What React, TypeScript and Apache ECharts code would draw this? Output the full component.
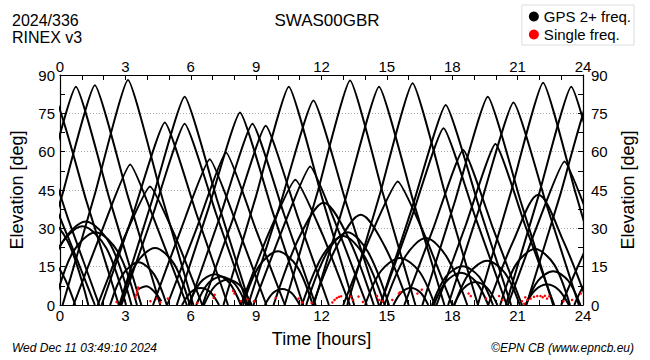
import React, { useEffect, useRef } from "react";
import * as echarts from "echarts";

// Satellite passes: each pass is a list of [time (hours), elevation (deg)]
const passesNight: number[][][] = [
  [[-3.3, 0], [-1.8, 41], [-0.3, 82], [1.2, 41], [2.7, 0]],
  [[-3.8, 0], [-2.4, 33], [-1.0, 66], [0.4, 33], [1.8, 0]],
  [[-3.6, 0], [-2.3, 28], [-1.0, 52], [0.3, 28], [1.6, 0]],
  [[-2.9, 0], [-1.95, 25], [-0.8, 35], [0.35, 25], [1.3, 0]],
  [[-2.5, 0], [-1.78, 14], [-0.9, 20], [-0.02, 14], [0.7, 0]],
  [[-2.27, 0], [-0.77, 42.7], [0.73, 85.4], [2.23, 42.7], [3.73, 0]],
  [[-1.4, 0], [0.1, 43], [1.6, 86], [3.1, 43], [4.6, 0]],
  [[0.12, 0], [1.62, 44], [3.12, 88], [4.62, 44], [6.12, 0]],
  [[-0.92, 0], [0.03, 23.5], [1.18, 32.7], [2.33, 23.5], [3.28, 0]],
  [[-0.97, 0], [-0.07, 22.2], [1.03, 30.8], [2.13, 22.2], [3.03, 0]],
  [[-0.27, 0], [0.58, 20.5], [1.63, 28.5], [2.68, 20.5], [3.53, 0]],
  [[0.62, 0], [1.92, 29], [3.22, 55], [4.52, 29], [5.82, 0]],
  [[1.73, 0], [2.93, 26], [4.13, 46.4], [5.33, 26], [6.53, 0]],
  [[2.3, 0], [2.88, 12], [3.6, 16.7], [4.32, 12], [4.9, 0]],
  [[2.76, 0], [3.48, 16], [4.36, 22.3], [5.24, 16], [5.96, 0]],
  [[3.6, 6.2], [3.95, 7.3], [4.3, 5.5], [4.65, 1.5]],
  [[1.91, 0], [3.36, 35.7], [4.81, 71.4], [6.26, 35.7], [7.71, 0]],
  [[2.82, 0], [4.27, 35.5], [5.72, 70.9], [7.17, 35.5], [8.62, 0]],
  [[2.72, 0], [4.22, 40.8], [5.72, 81.5], [7.22, 40.8], [8.72, 0]],
];

const passesMorning: number[][][] = [
  [[4.27, 0], [5.57, 30], [6.87, 57], [8.17, 30], [9.47, 0]],
  [[4.92, 0], [6.27, 30], [7.62, 59.7], [8.97, 30], [10.32, 0]],
  [[5.36, 0], [6.81, 37.7], [8.26, 75.3], [9.71, 37.7], [11.16, 0]],
  [[5.93, 0], [7.38, 35.5], [8.83, 70.9], [10.28, 35.5], [11.73, 0]],
  [[6.54, 0], [7.99, 35], [9.44, 70.1], [10.89, 35], [12.34, 0]],
  [[5.6, 0], [6.0, 5], [6.47, 6.7], [6.9, 5], [7.3, 0]],
  [[5.9, 0], [6.44, 8.8], [7.1, 12], [7.76, 8.8], [8.3, 0]],
  [[6.25, 0], [6.77, 8.2], [7.4, 11.2], [8.03, 8.2], [8.55, 0]],
  [[6.6, 0], [7.1, 7.3], [7.7, 10], [8.3, 7.3], [8.8, 0]],
  [[8.4, 0], [9.12, 15], [10.0, 21], [10.88, 15], [11.6, 0]],
  [[9.4, 0], [9.76, 4.6], [10.2, 6.3], [10.64, 4.6], [11.0, 0]],
  [[7.5, 0], [9.0, 42.7], [10.5, 85.4], [12.0, 42.7], [13.5, 0]],
  [[8.63, 0], [10.13, 40], [11.63, 80], [13.13, 40], [14.63, 0]],
  [[8.3, 0], [9.55, 27.5], [10.8, 49], [12.05, 27.5], [13.3, 0]],
  [[8.88, 0], [10.18, 29], [11.48, 54.2], [12.78, 29], [14.08, 0]],
];

const passesAfternoon: number[][][] = [
  [[9.8, 0], [10.95, 26], [12.1, 40], [13.25, 26], [14.4, 0]],
  [[11.6, 0], [12.7, 23], [13.8, 35.3], [14.9, 23], [16.0, 0]],
  [[11.3, 0], [12.25, 20.5], [13.2, 28.5], [14.15, 20.5], [15.1, 0]],
  [[11.1, 0], [12.05, 19.4], [13.0, 27], [13.95, 19.4], [14.9, 0]],
  [[10.31, 0], [11.81, 43.9], [13.31, 87.8], [14.81, 43.9], [16.31, 0]],
  [[11.64, 0], [13.14, 42.7], [14.64, 85.4], [16.14, 42.7], [17.64, 0]],
  [[13.18, 0], [14.68, 43.4], [16.18, 86.8], [17.68, 43.4], [19.18, 0]],
  [[14.7, 0], [16.2, 39.2], [17.7, 78.3], [19.2, 39.2], [20.7, 0]],
  [[14.7, 0], [16.15, 34.6], [17.6, 69.2], [19.05, 34.6], [20.5, 0]],
  [[13.0, 0], [14.25, 27], [15.5, 48.3], [16.75, 27], [18.0, 0]],
  [[14.89, 0], [15.84, 18.9], [16.79, 26.2], [17.74, 18.9], [18.69, 0]],
  [[14.0, 0], [14.72, 13.2], [15.6, 18.4], [16.48, 13.2], [17.2, 0]],
  [[15.3, 0], [15.66, 4.9], [16.1, 6.7], [16.54, 4.9], [16.9, 0]],
  [[15.8, 0], [17.15, 30.5], [18.5, 60.7], [19.85, 30.5], [21.2, 0]],
];

const passesEvening: number[][][] = [
  [[16.63, 0], [18.13, 40.8], [19.63, 81.5], [21.13, 40.8], [22.63, 0]],
  [[17.28, 0], [18.63, 31.5], [19.98, 63], [21.33, 31.5], [22.68, 0]],
  [[17.81, 0], [19.31, 39.6], [20.81, 79.2], [22.31, 39.6], [23.81, 0]],
  [[17.07, 0], [17.7, 11], [18.47, 15.2], [19.24, 11], [19.87, 0]],
  [[17.15, 0], [17.71, 9.1], [18.4, 12.6], [19.09, 9.1], [19.65, 0]],
  [[18.1, 0], [18.78, 12.5], [19.6, 17.3], [20.42, 12.5], [21.1, 0]],
  [[18.07, 0], [18.52, 6.5], [19.07, 9], [19.62, 6.5], [20.07, 0]],
  [[19.17, 0], [20.67, 43.5], [22.17, 87], [23.67, 43.5], [25.17, 0]],
  [[20.46, 0], [21.96, 42.7], [23.46, 85.4], [24.96, 42.7], [26.46, 0]],
  [[20.55, 0], [21.85, 30], [23.15, 56.2], [24.45, 30], [25.75, 0]],
  [[19.65, 0], [20.8, 25], [21.95, 43.1], [23.1, 25], [24.25, 0]],
  [[20.2, 0], [20.92, 15.8], [21.8, 21.9], [22.68, 15.8], [23.4, 0]],
  [[21.38, 0], [21.94, 9.5], [22.63, 13.2], [23.32, 9.5], [23.88, 0]],
  [[21.35, 0], [21.8, 5.8], [22.35, 8], [22.9, 5.8], [23.35, 0]],
  [[21.4, 0], [22.95, 43], [24.5, 86], [26.05, 43], [27.6, 0]],
  [[23.0, 0], [24.3, 25], [25.6, 45], [26.9, 25], [28.2, 0]],
  [[23.6, 0], [24.23, 10], [25.0, 14], [25.77, 10], [26.4, 0]],
];

// Single-frequency observations (red)
const singleFreqPoints: number[][] = [
  [2.6, 1.2], [3.47, 3.0], [3.5, 4.0], [3.53, 5.0], [3.56, 6.0], [3.59, 6.8],
  [4.15, 1.5], [4.45, 2.5], [4.6, 1.0], [4.95, 2.5], [6.3, 0.8], [7.05, 2.8], [7.1, 4.0],
  [7.95, 5.5], [8.0, 4.5], [8.3, 1.5], [8.6, 2.2], [8.9, 1.5], [9.9, 2.8], [10.95, 2.5],
  [11.1, 1.0], [11.55, 0.8], [12.5, 1.0], [12.6, 2.0], [12.7, 2.7], [12.8, 3.2], [12.9, 3.4],
  [13.35, 3.3], [13.45, 2.0], [13.7, 3.3], [13.9, 1.2], [14.55, 3.5], [14.65, 2.0], [14.8, 1.5],
  [15.25, 2.0], [15.55, 4.5], [15.6, 5.0], [16.4, 4.5], [16.6, 6.0], [18.75, 4.5], [18.85, 3.5],
  [19.55, 2.5], [20.15, 3.5], [20.3, 2.0], [21.2, 1.5], [21.3, 0.5], [21.35, 3.0], [21.45, 2.0],
  [21.6, 2.5], [21.75, 3.2], [21.9, 3.5], [22.05, 3.5], [22.15, 3.0], [22.25, 3.6], [22.35, 2.5],
  [22.45, 3.4], [23.1, 1.5], [23.5, 2.0], [23.9, 4.5],
];

const timeRange = [0, 24];
const timeStep = 3;
const elevRange = [0, 90];
const elevStep = 15;

const dualName = "GPS 2+ freq.";
const singleName = "Single freq.";
const stationName = "SWAS00GBR";
const dayLabel = "2024/336";
const rinexLabel = "RINEX v3";
const dateLabel = "Wed Dec 11 03:49:10 2024";
const creditLabel = "\u00A9EPN CB (www.epncb.eu)";

const FONT = '"Liberation Sans", Arial, Helvetica, sans-serif';

export default function App() {
  const ref = useRef<HTMLDivElement>(null);

  useEffect(() => {
    if (!ref.current) return;
    const chart = echarts.init(ref.current, undefined, { renderer: "svg" });

    const allPasses = [...passesNight, ...passesMorning, ...passesAfternoon, ...passesEvening];
    const lineSeries = allPasses.map((p) => {
      const peak = Math.max(...p.map((q) => q[1]));
      return {
        type: "line",
        name: dualName,
        data: p,
        smooth: peak > 45 ? 0.14 : 0.32,
        showSymbol: false,
        symbol: "none",
        clip: true,
        silent: true,
        xAxisIndex: 0,
        yAxisIndex: 0,
        itemStyle: { color: "#000" },
        lineStyle: { color: "#000", width: 2 },
        z: 2,
      };
    });

    const xBase = {
      type: "value",
      min: timeRange[0],
      max: timeRange[1],
      interval: timeStep,
      axisLine: { show: true, onZero: false, lineStyle: { color: "#000", width: 1.2 } },
      axisTick: { show: true, inside: true, length: 5, lineStyle: { color: "#000", width: 1 } },
      minorTick: { show: true, splitNumber: 3, length: 5, lineStyle: { color: "#000", width: 1 } },
      splitLine: { show: false },
      axisLabel: { fontSize: 15, color: "#000", fontFamily: FONT },
    };
    const yBase = {
      type: "value",
      min: elevRange[0],
      max: elevRange[1],
      interval: elevStep,
      axisLine: { show: true, onZero: false, lineStyle: { color: "#000", width: 1.2 } },
      axisTick: { show: true, inside: true, length: 5, lineStyle: { color: "#000", width: 1 } },
      minorTick: { show: true, splitNumber: 2, length: 5, lineStyle: { color: "#000", width: 1 } },
      name: "Elevation [deg]",
      nameLocation: "middle",
      nameRotate: 90,
      nameTextStyle: { fontSize: 18, color: "#000", fontFamily: FONT },
    };

    const option: any = {
      animation: false,
      backgroundColor: "#fff",
      textStyle: { fontFamily: FONT },
      grid: { left: 54, right: 67, top: 75, bottom: 55 },
      legend: {
        orient: "vertical",
        right: 16,
        top: 5,
        padding: [4, 3, 3, 7],
        itemGap: 3,
        itemWidth: 10,
        itemHeight: 10,
        borderColor: "#ddd",
        borderWidth: 1,
        selectedMode: false,
        textStyle: { fontSize: 15, color: "#000", fontFamily: FONT },
        data: [
          { name: dualName, icon: "circle", itemStyle: { color: "#000", opacity: 1 } },
          { name: singleName, icon: "circle", itemStyle: { color: "#f00", opacity: 1 } },
        ],
      },
      xAxis: [
        {
          ...xBase,
          position: "bottom",
          axisLabel: { ...xBase.axisLabel, margin: 3 },
          name: "Time [hours]",
          nameLocation: "middle",
          nameGap: 25,
          nameTextStyle: { fontSize: 18, color: "#000", fontFamily: FONT },
        },
        { ...xBase, position: "top", axisLabel: { ...xBase.axisLabel, margin: 1 } },
      ],
      yAxis: [
        {
          ...yBase,
          position: "left",
          nameGap: 34,
          axisLabel: { fontSize: 15, color: "#000", fontFamily: FONT, margin: 5 },
          splitLine: { show: true, lineStyle: { color: "#aaa", type: [1, 2], width: 1 } },
        },
        {
          ...yBase,
          position: "right",
          nameGap: 33,
          axisLabel: { fontSize: 15, color: "#000", fontFamily: FONT, margin: 8 },
          splitLine: { show: false },
        },
      ],
      graphic: [
        { type: "text", left: 12, top: 12, style: { text: dayLabel, font: `16px ${FONT}`, fill: "#000" } },
        { type: "text", left: 12, top: 29, style: { text: rinexLabel, font: `16px ${FONT}`, fill: "#000" } },
        {
          type: "text",
          x: 327,
          y: 20,
          style: { text: stationName, font: `17px ${FONT}`, fill: "#000", align: "center", verticalAlign: "middle" },
        },
        {
          type: "text",
          x: 12,
          y: 348,
          style: { text: dateLabel, font: `italic 12px ${FONT}`, fill: "#000", align: "left", verticalAlign: "middle" },
        },
        {
          type: "text",
          x: 634,
          y: 348,
          style: { text: creditLabel, font: `italic 12px ${FONT}`, fill: "#000", align: "right", verticalAlign: "middle" },
        },
      ],
      series: [
        ...lineSeries,
        {
          type: "scatter",
          name: singleName,
          data: singleFreqPoints,
          symbol: "circle",
          symbolSize: 2.5,
          itemStyle: { color: "#f00", opacity: 1 },
          clip: true,
          silent: true,
          z: 3,
        },
      ],
    };

    chart.setOption(option);
    return () => chart.dispose();
  }, []);

  return <div ref={ref} style={{ position: "fixed", left: 0, top: 0, width: 650, height: 360 }} />;
}
